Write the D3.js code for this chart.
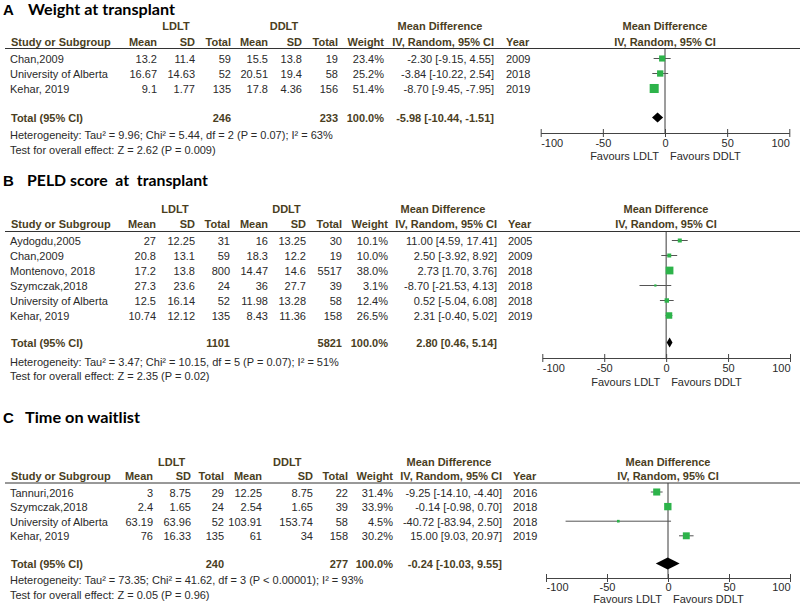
<!DOCTYPE html>
<html><head><meta charset="utf-8">
<script src="https://cdn.jsdelivr.net/npm/d3@7"></script>
<style>
body{margin:0;background:#fff}
svg{display:block}
text{font-family:"Liberation Sans",Arial,sans-serif;font-size:11px;fill:#2a2a2a}
.hd{font-weight:bold;fill:#4a3e1e}
</style></head><body><svg id="c" width="800" height="604"></svg>
<script>
// ---------- Panel A: Weight at transplant ----------
const studiesA = ["Chan,2009", "University of Alberta", "Kehar, 2019"];
const ldltMeanA = [13.2, 16.67, 9.1];
const ldltSdA = [11.4, 14.63, 1.77];
const ldltNA = [59, 52, 135];
const ddltMeanA = [15.5, 20.51, 17.8];
const ddltSdA = [13.8, 19.4, 4.36];
const ddltNA = [19, 58, 156];
const weightA = [23.4, 25.2, 51.4];
const mdA = [-2.30, -3.84, -8.70];
const ciLoA = [-9.15, -10.22, -9.45];
const ciHiA = [4.55, 2.54, -7.95];
const yearA = [2009, 2018, 2019];
const totalNA = [246, 233];
const pooledA = [-5.98, -10.44, -1.51];
const hetA = "Heterogeneity: Tau² = 9.96; Chi² = 5.44, df = 2 (P = 0.07); I² = 63%";
const testA = "Test for overall effect: Z = 2.62 (P = 0.009)";

// ---------- Panel B: PELD score at transplant ----------
const studiesB = ["Aydogdu,2005", "Chan,2009", "Montenovo, 2018", "Szymczak,2018", "University of Alberta", "Kehar, 2019"];
const ldltMeanB = [27, 20.8, 17.2, 27.3, 12.5, 10.74];
const ldltSdB = [12.25, 13.1, 13.8, 23.6, 16.14, 12.12];
const ldltNB = [31, 59, 800, 24, 52, 135];
const ddltMeanB = [16, 18.3, 14.47, 36, 11.98, 8.43];
const ddltSdB = [13.25, 12.2, 14.6, 27.7, 13.28, 11.36];
const ddltNB = [30, 19, 5517, 39, 58, 158];
const weightB = [10.1, 10.0, 38.0, 3.1, 12.4, 26.5];
const mdB = [11.00, 2.50, 2.73, -8.70, 0.52, 2.31];
const ciLoB = [4.59, -3.92, 1.70, -21.53, -5.04, -0.40];
const ciHiB = [17.41, 8.92, 3.76, 4.13, 6.08, 5.02];
const yearB = [2005, 2009, 2018, 2018, 2018, 2019];
const totalNB = [1101, 5821];
const pooledB = [2.80, 0.46, 5.14];
const hetB = "Heterogeneity: Tau² = 3.47; Chi² = 10.15, df = 5 (P = 0.07); I² = 51%";
const testB = "Test for overall effect: Z = 2.35 (P = 0.02)";

// ---------- Panel C: Time on waitlist ----------
const studiesC = ["Tannuri,2016", "Szymczak,2018", "University of Alberta", "Kehar, 2019"];
const ldltMeanC = [3, 2.4, 63.19, 76];
const ldltSdC = [8.75, 1.65, 63.96, 16.33];
const ldltNC = [29, 24, 52, 135];
const ddltMeanC = [12.25, 2.54, 103.91, 61];
const ddltSdC = [8.75, 1.65, 153.74, 34];
const ddltNC = [22, 39, 58, 158];
const weightC = [31.4, 33.9, 4.5, 30.2];
const mdC = [-9.25, -0.14, -40.72, 15.00];
const ciLoC = [-14.10, -0.98, -83.94, 9.03];
const ciHiC = [-4.40, 0.70, 2.50, 20.97];
const yearC = [2016, 2018, 2018, 2019];
const totalNC = [240, 277];
const pooledC = [-0.24, -10.03, 9.55];
const hetC = "Heterogeneity: Tau² = 73.35; Chi² = 41.62, df = 3 (P < 0.00001); I² = 93%";
const testC = "Test for overall effect: Z = 0.05 (P = 0.96)";

const letters = ["A", "B", "C"];
const titles = ["Weight at transplant", "PELD score  at  transplant", "Time on waitlist"];
const totalWeight = "100.0%";
const axisTicks = [-100, -50, 0, 50, 100];
const axisDomain = [-100, 100];
const favourLabels = ["Favours LDLT", "Favours DDLT"];

const panels = [
  {studies: studiesA, m1: ldltMeanA, s1: ldltSdA, n1: ldltNA, m2: ddltMeanA, s2: ddltSdA, n2: ddltNA,
   w: weightA, md: mdA, lo: ciLoA, hi: ciHiA, year: yearA, tot: totalNA, pooled: pooledA, het: hetA, test: testA},
  {studies: studiesB, m1: ldltMeanB, s1: ldltSdB, n1: ldltNB, m2: ddltMeanB, s2: ddltSdB, n2: ddltNB,
   w: weightB, md: mdB, lo: ciLoB, hi: ciHiB, year: yearB, tot: totalNB, pooled: pooledB, het: hetB, test: testB},
  {studies: studiesC, m1: ldltMeanC, s1: ldltSdC, n1: ldltNC, m2: ddltMeanC, s2: ddltSdC, n2: ddltNC,
   w: weightC, md: mdC, lo: ciLoC, hi: ciHiC, year: yearC, tot: totalNC, pooled: pooledC, het: hetC, test: testC}
];

// layout (pixel positions only)
const layouts = [
  {titleY: 15, titleX: 28, titleW: 147, groupY: 30, headY: 46, lineY: 48.5, rowY0: 63, rowStep: 15, totalY: 122, hetY: 139, testY: 154,
   axisY: 133, tickY: 147, favY: 160, cols: [10, 157, 195, 231, 268, 302, 338, 384, 494, 506], grp: [176, 284, 440], plotC: 665, xr: [540.7, 789.3], dh: 10},
  {titleY: 186, titleX: 27, titleW: 181, groupY: 213, headY: 228, lineY: 231.5, rowY0: 245, rowStep: 15, totalY: 347, hetY: 366, testY: 380,
   axisY: 358, tickY: 372, favY: 386, cols: [10, 156, 195, 230, 268, 306, 342, 388, 497, 508], grp: [175, 286.5, 443], plotC: 666, xr: [542.3, 790], dh: 10},
  {titleY: 423, titleX: 25, titleW: 115, groupY: 466, headY: 480, lineY: 483, rowY0: 496.5, rowStep: 14.6, totalY: 568, hetY: 584, testY: 598.5,
   axisY: 578, tickY: 591, favY: 602.5, cols: [10, 153, 191, 224, 262, 313, 348, 393, 502, 513], grp: [171.7, 287.3, 449], plotC: 668, xr: [546, 790], dh: 12}
];

const svg = d3.select("#c");
const sz = d3.scaleSqrt().domain([0, 100]).range([0, 12.6]);
const f2 = d3.format(".2f");
const fx = v => f2(v).replace("−", "-");
const fmtCI = (m, l, h) => `${fx(m)} [${fx(l)}, ${fx(h)}]`;

function txt(g, x, y, s, anchor, cls) {
  return g.append("text").attr("x", x).attr("y", y).attr("text-anchor", anchor || "start")
    .attr("class", cls || null).text(s);
}

panels.forEach((p, pi) => {
  const L = layouts[pi];
  const c = L.cols;
  const g = svg.append("g");
  const x = d3.scaleLinear().domain(axisDomain).range(L.xr);
  const yRow = d3.scaleLinear().domain([0, 1]).range([L.rowY0, L.rowY0 + L.rowStep]);

  // titles
  g.append("text").attr("x", 3).attr("y", L.titleY).style("font-size", "15px").style("font-weight", "bold").style("fill", "#000").text(letters[pi]);
  g.append("text").attr("x", L.titleX).attr("y", L.titleY)
    .style("font-family", "Lato, 'Open Sans', sans-serif").style("font-size", "14.5px").style("font-weight", "bold")
    .style("fill", "#000").style("white-space", "pre")
    .attr("textLength", L.titleW).attr("lengthAdjust", "spacingAndGlyphs").text(titles[pi]);

  // group headers
  txt(g, L.grp[0], L.groupY, "LDLT", "middle", "hd");
  txt(g, L.grp[1], L.groupY, "DDLT", "middle", "hd");
  txt(g, L.grp[2], L.groupY, "Mean Difference", "middle", "hd");
  txt(g, L.plotC, L.groupY, "Mean Difference", "middle", "hd");

  // column headers
  txt(g, c[0] + 1, L.headY, "Study or Subgroup", "start", "hd");
  txt(g, c[1], L.headY, "Mean", "end", "hd");
  txt(g, c[2], L.headY, "SD", "end", "hd");
  txt(g, c[3], L.headY, "Total", "end", "hd");
  txt(g, c[4], L.headY, "Mean", "end", "hd");
  txt(g, c[5], L.headY, "SD", "end", "hd");
  txt(g, c[6], L.headY, "Total", "end", "hd");
  txt(g, c[7], L.headY, "Weight", "end", "hd");
  txt(g, c[8], L.headY, "IV, Random, 95% CI", "end", "hd");
  txt(g, c[9], L.headY, "Year", "start", "hd");
  txt(g, L.plotC, L.headY, "IV, Random, 95% CI", "middle", "hd");

  g.append("line").attr("x1", 5).attr("x2", 800).attr("y1", L.lineY).attr("y2", L.lineY)
    .attr("stroke", "#333").attr("stroke-width", 1);

  // rows
  p.studies.forEach((s, i) => {
    const y = yRow(i);
    txt(g, c[0], y, s);
    txt(g, c[1], y, String(p.m1[i]), "end");
    txt(g, c[2], y, String(p.s1[i]), "end");
    txt(g, c[3], y, String(p.n1[i]), "end");
    txt(g, c[4], y, String(p.m2[i]), "end");
    txt(g, c[5], y, String(p.s2[i]), "end");
    txt(g, c[6], y, String(p.n2[i]), "end");
    txt(g, c[7], y, p.w[i].toFixed(1) + "%", "end");
    txt(g, c[8], y, fmtCI(p.md[i], p.lo[i], p.hi[i]), "end");
    txt(g, c[9], y, String(p.year[i]), "start");
  });

  // total row & notes
  txt(g, c[0] + 1, L.totalY, "Total (95% CI)", "start", "hd");
  txt(g, c[3], L.totalY, String(p.tot[0]), "end", "hd");
  txt(g, c[6], L.totalY, String(p.tot[1]), "end", "hd");
  txt(g, c[7], L.totalY, totalWeight, "end", "hd");
  txt(g, c[8], L.totalY, fmtCI(p.pooled[0], p.pooled[1], p.pooled[2]), "end", "hd");
  txt(g, c[0], L.hetY, p.het);
  txt(g, c[0], L.testY, p.test);

  // zero line
  g.append("line").attr("x1", x(0)).attr("x2", x(0)).attr("y1", L.lineY).attr("y2", L.axisY)
    .attr("stroke", "#3a3a3a").attr("stroke-width", 1);

  // CI lines and squares
  p.studies.forEach((s, i) => {
    const cy = yRow(i) - 4.5;
    g.append("line").attr("x1", x(p.lo[i])).attr("x2", x(p.hi[i])).attr("y1", cy).attr("y2", cy)
      .attr("stroke", "#555").attr("stroke-width", 1);
    const side = sz(p.w[i]);
    g.append("rect").attr("x", x(p.md[i]) - side / 2).attr("y", cy - side / 2)
      .attr("width", side).attr("height", side).attr("fill", "#2db34a");
  });

  // diamond
  const dy = L.totalY - 4.5;
  const pts = [[x(p.pooled[1]), dy], [x(p.pooled[0]), dy - L.dh / 2], [x(p.pooled[2]), dy], [x(p.pooled[0]), dy + L.dh / 2]];
  g.append("path").attr("d", d3.line()(pts) + "Z").attr("fill", "#000");

  // axis
  const ax = g.append("g").attr("transform", `translate(0,${L.axisY})`)
    .call(d3.axisBottom(x).tickValues(axisTicks).tickSizeOuter(0).tickSizeInner(0).tickFormat(d => String(d)));
  ax.select(".domain").attr("stroke", "#444");
  ax.selectAll(".tick line").attr("y1", -4).attr("y2", 4).attr("stroke", "#444");
  ax.selectAll(".tick text")
    .attr("y", L.tickY - L.axisY).attr("dy", 0)
    .attr("text-anchor", (d, i) => i === 0 ? "start" : (i === axisTicks.length - 1 ? "end" : "middle"))
    .style("fill", "#2a2a2a");
  ax.attr("font-size", null).attr("font-family", null);

  txt(g, x(0) - 6, L.favY, favourLabels[0], "end");
  txt(g, x(0) + 5, L.favY, favourLabels[1], "start");
});
</script></body></html>
